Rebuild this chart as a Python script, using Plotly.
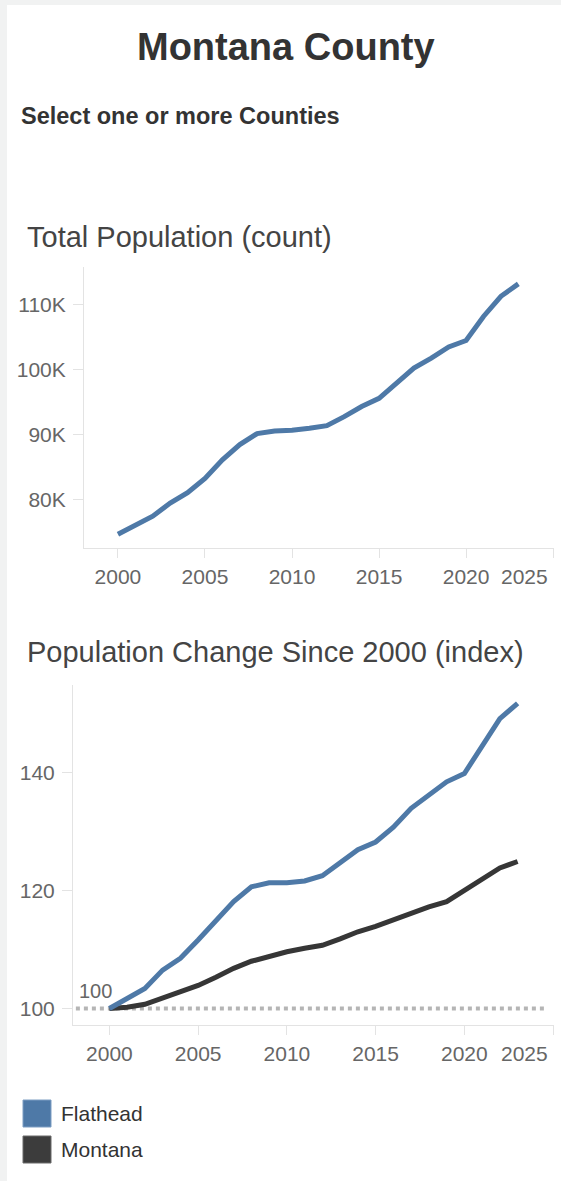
import plotly.graph_objects as go

# ---------------- data ----------------
years = list(range(2000, 2024))
flathead_population = [74700, 76150, 77500, 79500, 81100, 83300, 86150, 88500, 90200, 90600,
                       90700, 91000, 91400, 92800, 94350, 95600, 97950, 100250, 101800, 103500,
                       104500, 108200, 111300, 113200]
flathead_index = [100.0, 101.7, 103.4, 106.5, 108.5, 111.6, 114.7, 118.1, 120.6, 121.3,
                  121.3, 121.6, 122.5, 124.7, 126.9, 128.2, 130.7, 133.9, 136.2, 138.4,
                  139.8, 144.6, 149.1, 151.7]
montana_index = [100.0, 100.2, 100.7, 101.7, 102.8, 103.9, 105.3, 106.8, 108.0, 108.9,
                 109.6, 110.2, 110.7, 111.8, 113.0, 113.9, 115.0, 116.3, 117.2, 118.1,
                 120.0, 122.0, 123.8, 124.9]
series_names = ["Flathead", "Montana"]
x_tick_vals = [2000, 2005, 2010, 2015, 2020, 2025]
x_tick_text = ["2000", "2005", "2010", "2015", "2020", ""]
last_tick_label = "2025"
pop_tick_vals = [80000, 90000, 100000, 110000]
pop_tick_text = ["80K", "90K", "100K", "110K"]
idx_tick_vals = [100, 120, 140]
baseline_value = 100

# ---------------- style ----------------
W, H = 561, 1181
BLUE = "#4e79a7"
DARK = "#363636"
AXIS = "#e3e3e3"
FONT = "Arial, Liberation Sans, sans-serif"
TICKFONT = dict(family=FONT, size=21, color="#666666")


def fx(px):
    return px / W


def fy(py):
    return 1 - py / H


fig = go.Figure()

fig.add_trace(go.Scatter(x=years, y=flathead_population, mode="lines",
                         line=dict(color=BLUE, width=5), xaxis="x", yaxis="y",
                         showlegend=False, name=series_names[0]))
fig.add_trace(go.Scatter(x=years, y=montana_index, mode="lines",
                         line=dict(color=DARK, width=5), xaxis="x2", yaxis="y2",
                         showlegend=False, name=series_names[1]))
fig.add_trace(go.Scatter(x=years, y=flathead_index, mode="lines",
                         line=dict(color=BLUE, width=5), xaxis="x2", yaxis="y2",
                         showlegend=False, name=series_names[0]))

common_x = dict(tickvals=x_tick_vals, ticktext=x_tick_text, showgrid=False, zeroline=False,
                showline=True, linecolor=AXIS, linewidth=1, ticks="outside", ticklen=9,
                tickcolor=AXIS, tickfont=TICKFONT, ticklabelstandoff=1)
common_y = dict(showgrid=False, zeroline=False, showline=True, linecolor=AXIS, linewidth=1,
                ticks="outside", ticklen=10, tickcolor=AXIS, tickfont=TICKFONT,
                ticklabelstandoff=3)

fig.update_layout(
    width=W, height=H, margin=dict(l=0, r=0, t=0, b=0, pad=0),
    paper_bgcolor="white", plot_bgcolor="white",
    xaxis=dict(domain=[fx(84), fx(554)], range=[1998.05, 2025.05], anchor="y", **common_x),
    yaxis=dict(domain=[fy(548), fy(267)], range=[72600, 115800], anchor="x",
               tickvals=pop_tick_vals, ticktext=pop_tick_text, **common_y),
    xaxis2=dict(domain=[fx(73), fx(554)], range=[1997.95, 2025.05], anchor="y2", **common_x),
    yaxis2=dict(domain=[fy(1025), fy(685)], range=[97.2, 154.8], anchor="x2",
                tickvals=idx_tick_vals, **common_y),
)

shapes = [
    # page gutters
    dict(type="rect", xref="paper", yref="paper", x0=0, x1=fx(7), y0=0, y1=1,
         fillcolor="#f1f2f2", line=dict(width=0), layer="below"),
    dict(type="rect", xref="paper", yref="paper", x0=0, x1=1, y0=fy(5), y1=1,
         fillcolor="#f1f2f2", line=dict(width=0), layer="below"),
    # baseline at 100
    dict(type="line", xref="x2 domain", yref="y2", x0=0.006, x1=0.985,
         y0=baseline_value, y1=baseline_value,
         line=dict(color="#b5b5b5", width=4, dash="dot"), layer="below"),
    # legend swatches
    dict(type="rect", xref="paper", yref="paper", x0=fx(23), x1=fx(51), y0=fy(1127), y1=fy(1100),
         fillcolor=BLUE, line=dict(color="#7d9ec3", width=1)),
    dict(type="rect", xref="paper", yref="paper", x0=fx(23), x1=fx(51), y0=fy(1163), y1=fy(1136),
         fillcolor="#3c3c3c", line=dict(color="#6a6a6a", width=1)),
]
fig.update_layout(shapes=shapes)

annotations = [
    dict(text="<b>Montana County</b>", xref="paper", yref="paper", x=fx(286), y=fy(47),
         xanchor="center", yanchor="middle", showarrow=False,
         font=dict(family=FONT, size=38, color="#333333")),
    dict(text="<b>Select one or more Counties</b>", xref="paper", yref="paper", x=fx(19), y=fy(116),
         xanchor="left", yanchor="middle", showarrow=False,
         font=dict(family=FONT, size=23.5, color="#333333")),
    dict(text="Total Population (count)", xref="paper", yref="paper", x=fx(25), y=fy(237),
         xanchor="left", yanchor="middle", showarrow=False,
         font=dict(family=FONT, size=29, color="#444444")),
    dict(text="Population Change Since 2000 (index)", xref="paper", yref="paper", x=fx(25), y=fy(652),
         xanchor="left", yanchor="middle", showarrow=False,
         font=dict(family=FONT, size=29, color="#444444")),
    dict(text=str(baseline_value), xref="x2", yref="y2", x=years[0], y=baseline_value,
         xanchor="right", yanchor="bottom", xshift=5, yshift=4, showarrow=False,
         font=dict(family=FONT, size=20, color="#666666")),
    dict(text=series_names[0], xref="paper", yref="paper", x=fx(59), y=fy(1113),
         xanchor="left", yanchor="middle", showarrow=False,
         font=dict(family=FONT, size=21, color="#333333")),
    dict(text=series_names[1], xref="paper", yref="paper", x=fx(59), y=fy(1149),
         xanchor="left", yanchor="middle", showarrow=False,
         font=dict(family=FONT, size=21, color="#333333")),
]
# last x tick label, pulled inside the panel as in the original
for xr, yr in (("x", "y domain"), ("x2", "y2 domain")):
    annotations.append(dict(text=last_tick_label, xref=xr, yref=yr, x=x_tick_vals[-1], y=0,
                            xanchor="center", yanchor="top", xshift=-29, yshift=-15,
                            showarrow=False, font=TICKFONT))
fig.update_layout(annotations=annotations)

fig.write_html("out.html", config={"displayModeBar": False},
               post_script="document.body.style.margin='0';")
